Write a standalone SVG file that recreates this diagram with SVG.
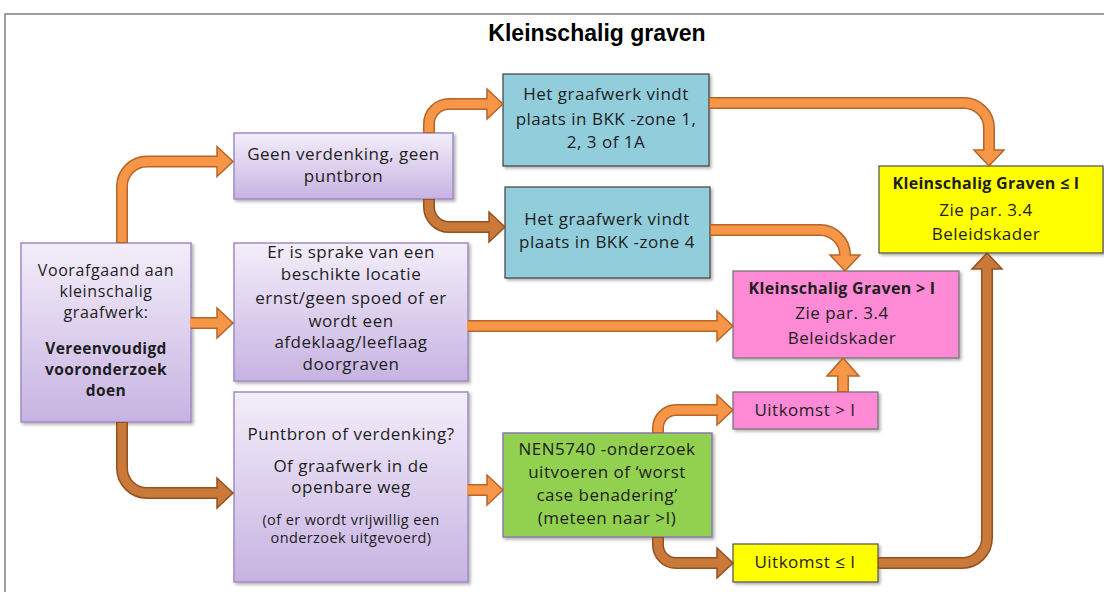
<svg xmlns="http://www.w3.org/2000/svg" width="1104" height="592" viewBox="0 0 1104 592">
<defs>
  <linearGradient id="gPurple" x1="0" y1="0" x2="0" y2="1">
    <stop offset="0" stop-color="#f3eefa"/>
    <stop offset="1" stop-color="#c7b3e2"/>
  </linearGradient>
  <filter id="sh" x="-10%" y="-10%" width="130%" height="130%">
    <feDropShadow dx="2" dy="2" stdDeviation="1.5" flood-color="#000" flood-opacity="0.3"/>
  </filter>
  <style>
    .title{font-family:"Liberation Sans",Arial,sans-serif;font-weight:bold;font-size:23px;fill:#000;text-anchor:middle}
    text{font-family:"Open Sans","Noto Sans",sans-serif;fill:#1e1e1e;text-anchor:middle}
    .t{font-size:17px;letter-spacing:0.5px}
    .tl{font-size:16px;letter-spacing:0.6px}
    .b{font-size:16px;font-weight:bold;letter-spacing:0.3px}
    .bl{font-size:15.5px;font-weight:bold;letter-spacing:0.4px}
    .s{font-size:14.5px;letter-spacing:0.4px}
    .purple{fill:url(#gPurple);stroke:#9f8ac6;stroke-width:1.5}
    .blue{fill:#92cddc;stroke:#3f3f3f;stroke-width:1.2}
    .yellow{fill:#ffff00;stroke:#505050;stroke-width:1.2}
    .pink{fill:#ff8ad6;stroke:#6f6f6f;stroke-width:1.2}
    .green{fill:#92d050;stroke:#8a78b6;stroke-width:1.5}
    .node rect{filter:url(#sh)}
    .o .out{fill:none;stroke:#b5652a;stroke-width:12}
    .o .in{fill:none;stroke:#f79646;stroke-width:9}
    .o polygon{fill:#f79646;stroke:#b5652a;stroke-width:1.5;stroke-linejoin:miter}
    .br .out{fill:none;stroke:#955020;stroke-width:12}
    .br .in{fill:none;stroke:#c97a3a;stroke-width:9}
    .br polygon{fill:#c97a3a;stroke:#955020;stroke-width:1.5;stroke-linejoin:miter}
  </style>
</defs>
<rect width="1104" height="592" fill="#fff"/>
<path d="M5,592 V14 H1104" fill="none" stroke="#808080" stroke-width="1.5"/>
<text class="title" x="597" y="41">Kleinschalig graven</text>

<g id="nodes">
  <g id="n-voorafgaand" class="node">
    <rect class="purple" x="21" y="243" width="170" height="179"/>
    <text class="tl" x="106" y="276">Voorafgaand aan</text>
    <text class="tl" x="106" y="297">kleinschalig</text>
    <text class="tl" x="106" y="318">graafwerk:</text>
    <text class="bl" x="106" y="354">Vereenvoudigd</text>
    <text class="bl" x="106" y="375">vooronderzoek</text>
    <text class="bl" x="106" y="396">doen</text>
  </g>
  <g id="n-geen" class="node">
    <rect class="purple" x="234" y="133" width="219" height="66"/>
    <text class="t" x="343.5" y="160">Geen verdenking, geen</text>
    <text class="t" x="343.5" y="182">puntbron</text>
  </g>
  <g id="n-sprake" class="node">
    <rect class="purple" x="234" y="243" width="234" height="138"/>
    <text class="t" x="351" y="258">Er is sprake van een</text>
    <text class="t" x="351" y="280">beschikte locatie</text>
    <text class="t" x="351" y="304">ernst/geen spoed of er</text>
    <text class="t" x="351" y="327">wordt een</text>
    <text class="t" x="351" y="348">afdeklaag/leeflaag</text>
    <text class="t" x="351" y="370">doorgraven</text>
  </g>
  <g id="n-puntbron" class="node">
    <rect class="purple" x="234" y="392" width="234" height="190"/>
    <text class="t" x="351" y="440">Puntbron of verdenking?</text>
    <text class="t" x="351" y="472">Of graafwerk in de</text>
    <text class="t" x="351" y="493">openbare weg</text>
    <text class="s" x="351" y="525">(of er wordt vrijwillig een</text>
    <text class="s" x="351" y="543">onderzoek uitgevoerd)</text>
  </g>
  <g id="n-zone123" class="node">
    <rect class="blue" x="503" y="74" width="206" height="92"/>
    <text class="t" x="606" y="100">Het graafwerk vindt</text>
    <text class="t" x="606" y="125">plaats in BKK -zone 1,</text>
    <text class="t" x="606" y="148">2, 3 of 1A</text>
  </g>
  <g id="n-zone4" class="node">
    <rect class="blue" x="505" y="187" width="205" height="91"/>
    <text class="t" x="607" y="225">Het graafwerk vindt</text>
    <text class="t" x="607" y="248">plaats in BKK -zone 4</text>
  </g>
  <g id="n-nen" class="node">
    <rect class="green" x="503" y="433" width="209" height="104"/>
    <text class="t" x="607" y="455">NEN5740 -onderzoek</text>
    <text class="t" x="607" y="478">uitvoeren of ‘worst</text>
    <text class="t" x="607" y="501">case benadering’</text>
    <text class="t" x="607" y="524">(meteen naar &gt;I)</text>
  </g>
  <g id="n-uitkomst-gt" class="node">
    <rect class="pink" x="733" y="392" width="145" height="37"/>
    <text class="t" x="805" y="416">Uitkomst &gt; I</text>
  </g>
  <g id="n-uitkomst-le" class="node">
    <rect class="yellow" x="733" y="544" width="145" height="38"/>
    <text class="t" x="805" y="568">Uitkomst ≤ I</text>
  </g>
  <g id="n-graven-gt" class="node">
    <rect class="pink" x="733" y="271" width="226" height="87"/>
    <text class="b" x="842" y="294">Kleinschalig Graven &gt; I</text>
    <text class="t" x="842" y="319">Zie par. 3.4</text>
    <text class="t" x="842" y="344">Beleidskader</text>
  </g>
  <g id="n-graven-le" class="node">
    <rect class="yellow" x="879" y="166" width="224" height="87"/>
    <text class="b" x="986" y="189">Kleinschalig Graven ≤ I</text>
    <text class="t" x="986" y="216">Zie par. 3.4</text>
    <text class="t" x="986" y="240">Beleidskader</text>
  </g>
</g>

<g id="connectors">
  <g class="o" id="c-a">
    <path class="out" d="M122,243 V186.5 A25,25 0 0 1 147,161.5 H217"/>
    <polygon points="217,146.5 233,161.5 217,176.5"/>
    <path class="in" d="M122,242 V186.5 A25,25 0 0 1 147,161.5 H219"/>
  </g>
  <g class="o" id="c-b">
    <path class="out" d="M191,323 H217"/>
    <polygon points="217,308 233,323 217,338"/>
    <path class="in" d="M190,323 H219"/>
  </g>
  <g class="br" id="c-c">
    <path class="out" d="M122,422 V468 A25,25 0 0 0 147,493 H217"/>
    <polygon points="217,478 233,493 217,508"/>
    <path class="in" d="M122,423 V468 A25,25 0 0 0 147,493 H219"/>
  </g>
  <g class="o" id="c-d">
    <path class="out" d="M429,133 V124 A20,20 0 0 1 449,104 H487"/>
    <polygon points="487,89 503,104 487,119"/>
    <path class="in" d="M429,132 V124 A20,20 0 0 1 449,104 H489"/>
  </g>
  <g class="br" id="c-e">
    <path class="out" d="M429,199 V207 A20,20 0 0 0 449,227 H489"/>
    <polygon points="489,212 505,227 489,242"/>
    <path class="in" d="M429,200 V207 A20,20 0 0 0 449,227 H491"/>
  </g>
  <g class="o" id="c-f">
    <path class="out" d="M468,326 H717"/>
    <polygon points="717,311 733,326 717,341"/>
    <path class="in" d="M467,326 H719"/>
  </g>
  <g class="o" id="c-g">
    <path class="out" d="M468,490 H487"/>
    <polygon points="487,475 503,490 487,505"/>
    <path class="in" d="M467,490 H489"/>
  </g>
  <g class="o" id="c-h">
    <path class="out" d="M658,433 V428 A18,18 0 0 1 676,410 H717"/>
    <polygon points="717,395 733,410 717,425"/>
    <path class="in" d="M658,432 V428 A18,18 0 0 1 676,410 H719"/>
  </g>
  <g class="br" id="c-i">
    <path class="out" d="M658,537 V545 A18,18 0 0 0 676,563 H717"/>
    <polygon points="717,548 733,563 717,578"/>
    <path class="in" d="M658,538 V545 A18,18 0 0 0 676,563 H719"/>
  </g>
  <g class="o" id="c-j">
    <path class="out" d="M843,392 V376"/>
    <polygon points="827,376 843,358 859,376"/>
    <path class="in" d="M843,391 V374"/>
  </g>
  <g class="o" id="c-k">
    <path class="out" d="M710,230 H820 A25,25 0 0 1 845,255"/>
    <polygon points="830,255 845,271 860,255"/>
    <path class="in" d="M711,230 H820 A25,25 0 0 1 845,255 V257"/>
  </g>
  <g class="o" id="c-l">
    <path class="out" d="M709,103 H964 A25,25 0 0 1 989,128 V150"/>
    <polygon points="974,150 989,166 1004,150"/>
    <path class="in" d="M710,103 H964 A25,25 0 0 1 989,128 V152"/>
  </g>
  <g class="br" id="c-m">
    <path class="out" d="M878,563 H962 A25,25 0 0 0 987,538 V269"/>
    <polygon points="972,269 987,253 1002,269"/>
    <path class="in" d="M879,563 H962 A25,25 0 0 0 987,538 V267"/>
  </g>
</g>
</svg>
